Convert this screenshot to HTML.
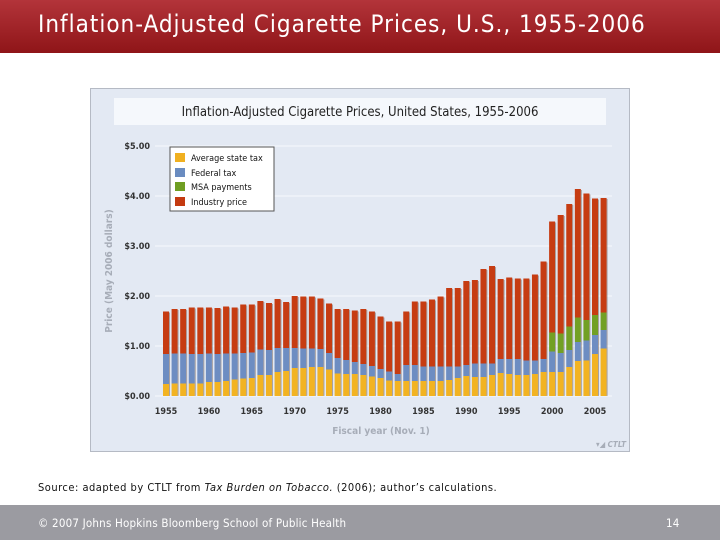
<!DOCTYPE html>
<html><head><meta charset="utf-8"><style>
body{margin:0;width:720px;height:540px;overflow:hidden;background:#fff;font-family:"DejaVu Sans Condensed","Liberation Sans",sans-serif;position:relative}
#tb{position:absolute;left:0;top:0;width:720px;height:53px;background:linear-gradient(#b3343a,#8f1518)}
#tb div{position:absolute;left:38px;top:10px;color:#fff;font-size:24px;letter-spacing:1px;white-space:nowrap}
#src{position:absolute;left:38px;top:481px;font-size:11px;color:#111;letter-spacing:0.5px;white-space:nowrap}
#ft{position:absolute;left:0;top:505px;width:720px;height:35px;background:#9b9ba1;color:#fff;font-size:11.5px;letter-spacing:0.2px}
</style></head><body>
<div id="tb"><div>Inflation-Adjusted Cigarette Prices, U.S., 1955-2006</div></div>
<svg width="720" height="540" style="position:absolute;left:0;top:0">
<rect x="90.5" y="88.5" width="539" height="363" fill="#e3e9f3" stroke="#b5bac4"/>
<rect x="114" y="98" width="492" height="27" fill="#f5f8fc"/>
<text x="360" y="116" text-anchor="middle" font-size="13" fill="#222">Inflation-Adjusted Cigarette Prices, United States, 1955-2006</text>
<g id="grid"></g><g id="bars"></g><g id="axes"></g>
<text transform="translate(112,271) rotate(-90)" text-anchor="middle" font-size="10" font-weight="bold" fill="#a7adb8">Price (May 2006 dollars)</text>
<text x="381" y="434" text-anchor="middle" font-size="10" font-weight="bold" fill="#a7adb8">Fiscal year (Nov. 1)</text>
<text x="626" y="447" text-anchor="end" font-size="8" font-weight="bold" font-style="italic" fill="#a7adb8">▾◢ CTLT</text>
<g>
<rect x="170" y="147" width="104" height="64" fill="#fff" stroke="#555"/>
<rect x="175" y="153" width="10" height="9" fill="#f0b020"/>
<text x="191" y="161" font-size="9" fill="#111">Average state tax</text>
<rect x="175" y="168" width="10" height="9" fill="#6a8cc0"/>
<text x="191" y="176" font-size="9" fill="#111">Federal tax</text>
<rect x="175" y="182" width="10" height="9" fill="#6f9e22"/>
<text x="191" y="190" font-size="9" fill="#111">MSA payments</text>
<rect x="175" y="197" width="10" height="9" fill="#c43a10"/>
<text x="191" y="205" font-size="9" fill="#111">Industry price</text>
</g>
</svg>
<div id="src">Source: adapted by CTLT from <i>Tax Burden on Tobacco.</i> (2006); author’s calculations.</div>
<div id="ft"><span style="position:absolute;left:38px;top:11px">© 2007 Johns Hopkins Bloomberg School of Public Health</span><span style="position:absolute;left:666px;top:11px">14</span></div>
<script>
const startYear=1955;
const stateTax=[0.24,0.25,0.25,0.25,0.25,0.28,0.28,0.3,0.33,0.35,0.36,0.42,0.42,0.48,0.5,0.56,0.56,0.58,0.58,0.53,0.45,0.44,0.44,0.42,0.39,0.36,0.31,0.3,0.3,0.3,0.3,0.3,0.3,0.32,0.36,0.4,0.38,0.38,0.42,0.46,0.44,0.42,0.42,0.44,0.48,0.48,0.48,0.58,0.7,0.71,0.84,0.95];
const fedTotal=[0.84,0.85,0.85,0.84,0.84,0.85,0.84,0.85,0.85,0.86,0.87,0.93,0.92,0.96,0.96,0.96,0.95,0.95,0.94,0.86,0.76,0.72,0.68,0.64,0.6,0.54,0.49,0.44,0.62,0.62,0.59,0.59,0.59,0.59,0.59,0.62,0.65,0.65,0.65,0.74,0.74,0.74,0.71,0.71,0.74,0.89,0.86,0.92,1.08,1.11,1.22,1.32];
const msaTotal=[0,0,0,0,0,0,0,0,0,0,0,0,0,0,0,0,0,0,0,0,0,0,0,0,0,0,0,0,0,0,0,0,0,0,0,0,0,0,0,0,0,0,0,0,0,1.27,1.25,1.39,1.57,1.52,1.62,1.67];
const totals=[1.69,1.74,1.74,1.77,1.77,1.77,1.76,1.79,1.77,1.83,1.83,1.9,1.86,1.94,1.88,2.0,1.99,1.99,1.95,1.85,1.74,1.74,1.71,1.74,1.69,1.59,1.49,1.49,1.69,1.89,1.89,1.93,1.99,2.16,2.16,2.3,2.32,2.54,2.6,2.34,2.37,2.35,2.35,2.43,2.69,3.49,3.62,3.84,4.14,4.05,3.95,3.96];
const yTicks=[0,1,2,3,4,5];
const yTickLabels=["$0.00","$1.00","$2.00","$3.00","$4.00","$5.00"];
const xTicks=[1955,1960,1965,1970,1975,1980,1985,1990,1995,2000,2005];
const NS='http://www.w3.org/2000/svg';
const y=v=>396-v*50;
const x=yr=>166+(yr-1955)*8.58;
function mk(t,a,p){const e=document.createElementNS(NS,t);for(const k in a)e.setAttribute(k,a[k]);p.appendChild(e);return e;}
const grid=document.getElementById('grid'),bars=document.getElementById('bars'),axes=document.getElementById('axes');
yTicks.forEach((v,i)=>{
 const l=mk('line',{x1:155,x2:612,y1:y(v),y2:y(v),stroke:'#f3f6fa','stroke-width':1.2},grid);
 
 
 const t=mk('text',{x:150,y:y(v)+3,'text-anchor':'end','font-size':9,'font-weight':'bold',fill:'#333'},axes);
 t.textContent=yTickLabels[i];
 
 
});
xTicks.forEach(yr=>{
 const t=mk('text',{x:x(yr),y:414,'text-anchor':'middle','font-size':9,'font-weight':'bold',fill:'#333'},axes);
 t.textContent=yr;
 
 
});
totals.forEach((tot,i)=>{
 const cx=x(startYear+i),w=6,l=cx-w/2;
 const s=stateTax[i],f=fedTotal[i],m=msaTotal[i]>0?msaTotal[i]:f;
 const segs=[[0,s,'#f2b322','state'],[s,f,'#6d8dc2','federal'],[f,m,'#72a024','msa'],[m,tot,'#c63c12','industry']];
 segs.forEach(sg=>{
  if(sg[1]<=sg[0])return;
  const r=mk('rect',{x:l,y:y(sg[1]),width:w,height:y(sg[0])-y(sg[1]),fill:sg[2]},bars);
  
  
 });
 const sh=mk('rect',{x:l+w,y:y(tot)+1,width:1,height:y(0)-y(tot)-1,fill:'#6e5a50',opacity:0.5},bars);
 
 
});
</script>
</body></html>
